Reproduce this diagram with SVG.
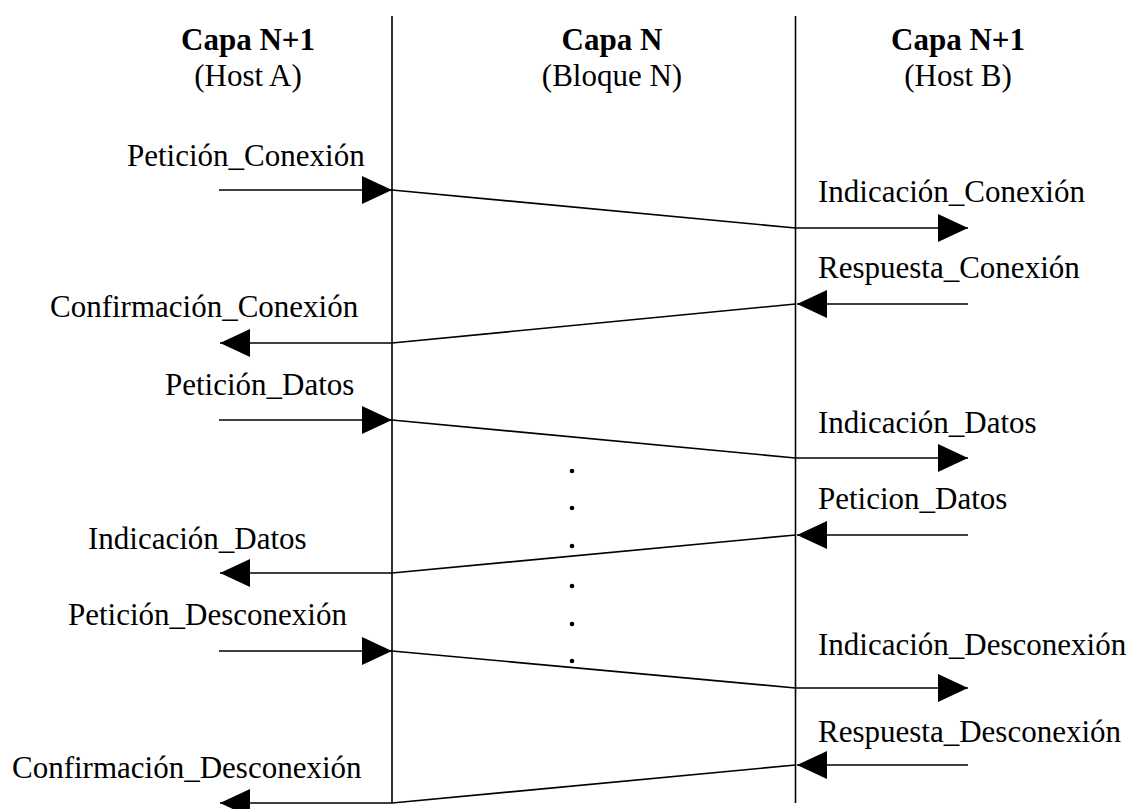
<svg xmlns="http://www.w3.org/2000/svg" width="1133" height="809" viewBox="0 0 1133 809" font-family="'Liberation Serif', Tinos, 'Times New Roman', 'DejaVu Serif', serif">
<style>
text{font-family:'Liberation Serif',Tinos,'Times New Roman','DejaVu Serif',serif;font-size:31px;fill:#000}
.h{font-weight:bold;text-anchor:middle}
.s{text-anchor:middle}
.ln{stroke:#000;stroke-width:1.6;fill:none}
.ar{stroke:#000;stroke-width:1.6;fill:none;marker-end:url(#ah)}
</style>
<defs>
<marker id="ah" markerUnits="userSpaceOnUse" markerWidth="30" markerHeight="28" refX="30" refY="14" orient="auto" viewBox="0 0 30 28">
<path d="M0,0 L30,14 L0,28 z" fill="#000"/>
</marker>
</defs>
<rect width="1133" height="809" fill="#fff"/>
<g id="header-hostA">
<text class="h" x="248" y="50">Capa N+1</text>
<text class="s" x="248" y="86">(Host A)</text>
</g>
<g id="header-bloqueN">
<text class="h" x="612" y="50">Capa N</text>
<text class="s" x="612" y="86">(Bloque N)</text>
</g>
<g id="header-hostB">
<text class="h" x="958" y="50">Capa N+1</text>
<text class="s" x="958" y="86">(Host B)</text>
</g>
<g id="lifelines">
<line class="ln" x1="392" y1="16" x2="392" y2="803"/>
<line class="ln" x1="795.5" y1="16" x2="795.5" y2="803"/>
</g>
<g id="labels-left">
<text x="127" y="166">Petición_Conexión</text>
<text x="50" y="317">Confirmación_Conexión</text>
<text x="165" y="395">Petición_Datos</text>
<text x="88" y="549">Indicación_Datos</text>
<text x="68" y="625">Petición_Desconexión</text>
<text x="12" y="778">Confirmación_Desconexión</text>
</g>
<g id="labels-right">
<text x="818" y="202">Indicación_Conexión</text>
<text x="818" y="278">Respuesta_Conexión</text>
<text x="818" y="433">Indicación_Datos</text>
<text x="818" y="509">Peticion_Datos</text>
<text x="818" y="655">Indicación_Desconexión</text>
<text x="818" y="742">Respuesta_Desconexión</text>
</g>
<g id="connectors">
<line class="ar" x1="219" y1="190" x2="392" y2="190"/>
<line class="ln" x1="392" y1="190" x2="795.5" y2="228"/>
<line class="ar" x1="795.5" y1="228" x2="968" y2="228"/>

<line class="ar" x1="968" y1="304" x2="797" y2="304"/>
<line class="ln" x1="795.5" y1="304" x2="392" y2="343"/>
<line class="ar" x1="392" y1="343" x2="220" y2="343"/>

<line class="ar" x1="219" y1="420" x2="392" y2="420"/>
<line class="ln" x1="392" y1="420" x2="795.5" y2="458"/>
<line class="ar" x1="795.5" y1="458" x2="968" y2="458"/>

<line class="ar" x1="968" y1="535" x2="797" y2="535"/>
<line class="ln" x1="795.5" y1="535" x2="392" y2="573"/>
<line class="ar" x1="392" y1="573" x2="220" y2="573"/>

<line class="ar" x1="219" y1="651" x2="392" y2="651"/>
<line class="ln" x1="392" y1="651" x2="795.5" y2="688"/>
<line class="ar" x1="795.5" y1="688" x2="968" y2="688"/>

<line class="ar" x1="968" y1="765" x2="797" y2="765"/>
<line class="ln" x1="795.5" y1="765" x2="392" y2="803"/>
<line class="ar" x1="392" y1="803" x2="220" y2="803"/>
</g>
<g id="ellipsis" fill="#000">
<circle cx="572" cy="471" r="2.3"/>
<circle cx="572" cy="508" r="2.3"/>
<circle cx="572" cy="546" r="2.3"/>
<circle cx="572" cy="586" r="2.3"/>
<circle cx="572" cy="624" r="2.3"/>
<circle cx="572" cy="661" r="2.3"/>
</g>
</svg>
